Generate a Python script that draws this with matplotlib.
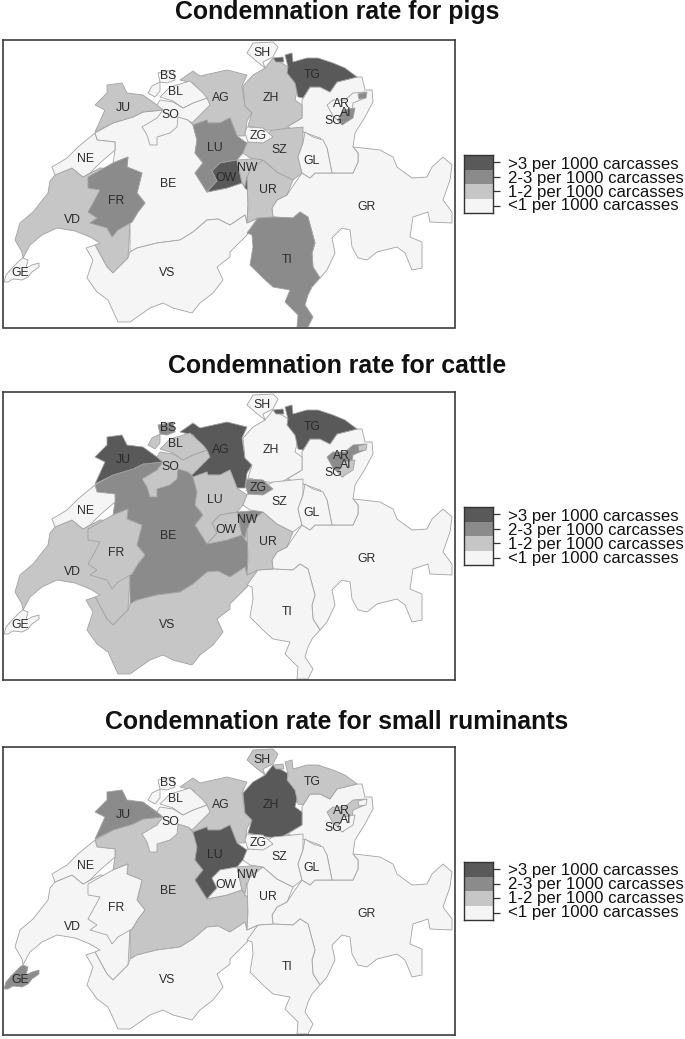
import matplotlib
matplotlib.use('Agg')
import matplotlib.pyplot as plt
from matplotlib.patches import Polygon

plt.rcParams['font.family'] = ['Liberation Sans', 'DejaVu Sans']

W, H = 685, 1039

# canton outlines, in map units (top panel pixels), biggest first so small ones sit on top
VD = [(23,258),(22,252),(15,240),(20,223),(33,212),(48,193),(50,181),(55,175),(72,168),(83,177),
      (100,168),(125,170),(135,195),(130,223),(128,258),(113,273),(107,267),(95,245),(100,243),(90,237),
      (75,231),(57,228),(42,235),(30,245)]
BE = [(95,133),(113,123),(133,117),(143,112),(163,110),(188,120),(193,125),(197,140),(195,153),(203,163),
      (195,173),(207,192),(227,188),(242,183),(245,188),(248,190),(248,205),(247,223),(245,215),(230,225),
      (218,219),(207,220),(193,232),(180,240),(157,243),(137,248),(130,252),(130,223),(132,222),(138,212),
      (145,203),(137,193),(142,173),(127,167),(128,157),(113,163),(115,150),(115,142),(97,140)]
VS = [(95,245),(107,267),(113,273),(128,258),(130,252),(137,248),(157,243),(180,240),(193,232),(207,220),
      (218,219),(230,225),(245,215),(247,223),(258,218),(247,235),(230,252),(230,257),(217,267),(223,280),
      (213,293),(200,303),(192,313),(173,308),(163,303),(150,308),(130,322),(118,322),(108,300),(97,292),
      (87,278),(93,260),(86,248)]
GR = [(353,147),(363,148),(380,150),(393,157),(397,167),(412,178),(427,177),(432,167),(443,157),(452,165),
      (450,180),(443,200),(452,212),(452,223),(430,222),(428,212),(413,217),(410,237),(422,242),(422,268),
      (412,270),(405,253),(397,247),(377,252),(367,260),(358,258),(352,247),(350,230),(342,228),(332,238),
      (335,253),(327,270),(320,278),(313,267),(312,253),(315,243),(312,232),(308,217),(300,212),(293,218),
      (273,217),(272,208),(277,200),(287,195),(295,183),(302,173),(310,178),(315,173),(332,173),(353,173),
      (358,162),(358,153)]
TI = [(247,233),(258,218),(273,217),(293,218),(300,212),(308,217),(312,232),(315,243),(312,253),(313,267),
      (320,278),(312,287),(308,295),(305,305),(313,317),(308,327),(297,327),(298,315),(285,302),(290,290),
      (273,287),(263,278),(250,265),(253,247),(252,235)]
SG = [(337,82),(357,77),(362,77),(365,90),(372,90),(373,102),(365,117),(355,133),(353,147),(358,153),
      (358,162),(353,173),(332,173),(327,148),(320,138),(303,132),(287,127),(302,118),(302,100),(310,87),
      (320,87),(330,92)]
AG = [(180,80),(193,71),(200,76),(227,70),(247,75),(242,86),(245,106),(252,113),(247,121),(245,136),
      (237,136),(230,118),(220,123),(208,123),(207,120),(193,125),(190,121),(208,100),(200,93),(193,83)]
ZH = [(243,86),(253,75),(260,71),(265,68),(273,58),(287,66),(290,75),(298,88),(295,100),(302,105),(302,118),
      (280,131),(267,130),(248,126),(252,113),(245,106)]
TG = [(288,67),(285,55),(292,53),(293,62),(307,58),(318,58),(333,63),(345,68),(357,77),(337,82),(330,92),
      (320,87),(310,87),(303,98),(298,97),(295,83),(287,73)]
TG2 = [(273,58),(283,57),(284,62),(276,62)]
SH = [(247,53),(253,43),(273,42),(278,47),(273,57),(263,62),(265,68),(255,60)]
JU = [(95,105),(107,93),(107,85),(122,83),(127,93),(143,95),(157,105),(163,110),(143,112),(133,117),
      (113,123),(95,132),(105,110)]
SO = [(157,105),(160,100),(173,102),(183,108),(193,103),(207,98),(210,105),(192,123),(188,120),(178,117),
      (177,127),(170,133),(157,137),(157,145),(150,145),(147,135),(142,127),(157,118),(163,110)]
SO2 = [(148,93),(152,86),(160,82),(160,91),(155,97)]
BL = [(160,97),(170,87),(190,81),(203,93),(207,98),(193,103),(183,108),(173,101)]
BS = [(158,73),(173,70),(175,80),(167,83),(160,82)]
NE = [(52,167),(67,158),(78,147),(95,133),(97,140),(115,142),(115,150),(100,163),(90,173),(83,177),(72,168),(55,175)]
FR = [(88,177),(113,163),(128,157),(127,167),(142,173),(137,193),(145,203),(138,212),(132,222),(118,230),
      (112,237),(107,228),(90,223),(97,218),(88,212),(93,203),(100,190),(88,188)]
GE = [(4,282),(6,275),(12,268),(20,260),(23,258),(28,260),(26,268),(32,265),(39,263),(39,267),(32,272),
      (28,277),(22,280),(13,279),(8,282)]
LU = [(193,125),(207,120),(208,123),(220,123),(230,118),(237,136),(247,143),(243,153),(237,160),(220,163),
      (212,171),(217,181),(207,192),(195,173),(203,163),(195,153),(197,140)]
OW = [(207,192),(217,181),(212,171),(220,163),(237,160),(242,183),(227,188)]
OW2 = [(244,178),(256,176),(258,186),(250,192),(245,188)]
NW = [(237,160),(263,158),(260,171),(253,176),(247,176),(245,186),(242,183)]
UR = [(247,178),(250,170),(263,160),(277,172),(293,180),(287,195),(277,200),(272,208),(273,217),(258,218),
      (247,223),(248,205)]
SZ = [(247,143),(273,130),(303,127),(303,143),(298,157),(302,173),(293,180),(277,172),(263,160),(250,158),(243,153)]
ZG = [(247,127),(263,128),(273,137),(263,143),(248,142),(245,133)]
GL = [(305,132),(313,137),(323,140),(327,148),(332,173),(315,173),(310,178),(302,173),(298,157),(303,143)]
AR = [(327,105),(333,100),(345,100),(353,93),(365,92),(365,98),(353,103),(352,111),(343,125),(333,116)]
AI = [(343,110),(355,108),(353,118),(342,125),(338,120)]
AI2 = [(358,94),(367,92),(366,98),(359,99)]

outlines = [('VD',VD),('BE',BE),('VS',VS),('GR',GR),('TI',TI),('SG',SG),('AG',AG),('ZH',ZH),('TG',TG),('TG',TG2),
            ('SH',SH),('JU',JU),('SO',SO),('SO',SO2),('BL',BL),('BS',BS),('NE',NE),('FR',FR),('GE',GE),('LU',LU),
            ('OW',OW),('OW',OW2),('NW',NW),('UR',UR),('SZ',SZ),('ZG',ZG),('GL',GL),('AR',AR),('AI',AI),('AI',AI2)]

# canton label positions
label_pos = {'SH':(262,53),'TG':(312,75),'BS':(168,76),'BL':(175,92),'AG':(221,98),'ZH':(271,98),'JU':(123,108),
             'AR':(341,104),'AI':(346,113),'SG':(333,121),'SO':(170,115),'LU':(215,148),'ZG':(258,136),
             'SZ':(279,150),'GL':(312,161),'NE':(85,159),'OW':(226,178),'NW':(247,168),'BE':(168,184),
             'UR':(268,190),'FR':(116,201),'VD':(72,220),'GR':(367,207),'TI':(287,260),'VS':(167,273),'GE':(20,273)}

# rate class per canton: 0 <1, 1 1-2, 2 2-3, 3 >3 per 1000
pigs = {'SH':0,'TG':3,'BS':0,'BL':0,'AG':1,'ZH':1,'JU':1,'AR':0,'AI':2,'SG':0,'SO':0,'LU':2,'ZG':0,'SZ':1,
        'GL':0,'NE':0,'OW':3,'NW':1,'BE':0,'UR':1,'FR':2,'VD':1,'GR':0,'TI':2,'VS':0,'GE':0}
cattle = {'SH':0,'TG':3,'BS':2,'BL':1,'AG':3,'ZH':0,'JU':3,'AR':2,'AI':1,'SG':0,'SO':1,'LU':1,'ZG':2,'SZ':0,
          'GL':0,'NE':0,'OW':1,'NW':2,'BE':2,'UR':1,'FR':1,'VD':1,'GR':0,'TI':0,'VS':1,'GE':0}
small_ruminants = {'SH':1,'TG':1,'BS':0,'BL':0,'AG':1,'ZH':3,'JU':2,'AR':1,'AI':0,'SG':0,'SO':0,'LU':3,'ZG':0,
                   'SZ':0,'GL':0,'NE':0,'OW':0,'NW':1,'BE':1,'UR':0,'FR':0,'VD':0,'GR':0,'TI':0,'VS':0,'GE':2}

titles = ['Condemnation rate for pigs', 'Condemnation rate for cattle', 'Condemnation rate for small ruminants']
rates = [pigs, cattle, small_ruminants]
class_colors = ['#f5f5f5', '#c6c6c6', '#8b8b8b', '#595959']
class_labels = ['<1 per 1000 carcasses', '1-2 per 1000 carcasses', '2-3 per 1000 carcasses', '>3 per 1000 carcasses']

panel_tops = [40, 392, 747]
title_baselines = [19, 373, 729]
map_h = 287.5


def pixel_axes(fig, x0, y0, x1, y1):
    return fig.add_axes([x0/W, 1 - y1/H, (x1 - x0)/W, (y1 - y0)/H])


fig = plt.figure(figsize=(W/100, H/100), dpi=100)

for title, rate, top, ty in zip(titles, rates, panel_tops, title_baselines):
    ax = pixel_axes(fig, 3, top, 455, top + map_h)
    ax.set_xlim(3, 455)
    ax.set_ylim(40 + map_h, 40)
    ax.set_xticks([])
    ax.set_yticks([])
    for s in ax.spines.values():
        s.set_linewidth(1.2)
        s.set_color('#3c3c3c')
    for name, pts in outlines:
        ax.add_patch(Polygon(pts, closed=True, facecolor=class_colors[rate[name]],
                             edgecolor='#a2a2a2', linewidth=0.6))
    for name, (x, y) in label_pos.items():
        ax.text(x, y, name, ha='center', va='center', fontsize=8.8, color='#2a2a2a')

    fig.text(337/W, 1 - ty/H, title, ha='center', va='baseline', fontsize=17.9, fontweight='bold', color='#111111')

    # legend colour bar
    leg = pixel_axes(fig, 464, top + 115, 493, top + 173)
    leg.barh([3.5, 2.5, 1.5, 0.5], [1, 1, 1, 1], height=1, color=class_colors[::-1], linewidth=0)
    leg.set_xlim(0, 1)
    leg.set_ylim(0, 4)
    leg.set_xticks([])
    leg.yaxis.tick_right()
    leg.set_yticks([0.5, 1.5, 2.5, 3.5])
    leg.set_yticklabels([])
    leg.tick_params(axis='y', length=5, width=0.9, color='#333333')
    for s in leg.spines.values():
        s.set_linewidth(1.0)
        s.set_color('#333333')
    for i, lab in enumerate(class_labels):
        fig.text(508/W, 1 - (top + 166 - i*14)/H, lab, ha='left', va='center', fontsize=12.1, color='#111111')

fig.savefig('out.png', dpi=100)
